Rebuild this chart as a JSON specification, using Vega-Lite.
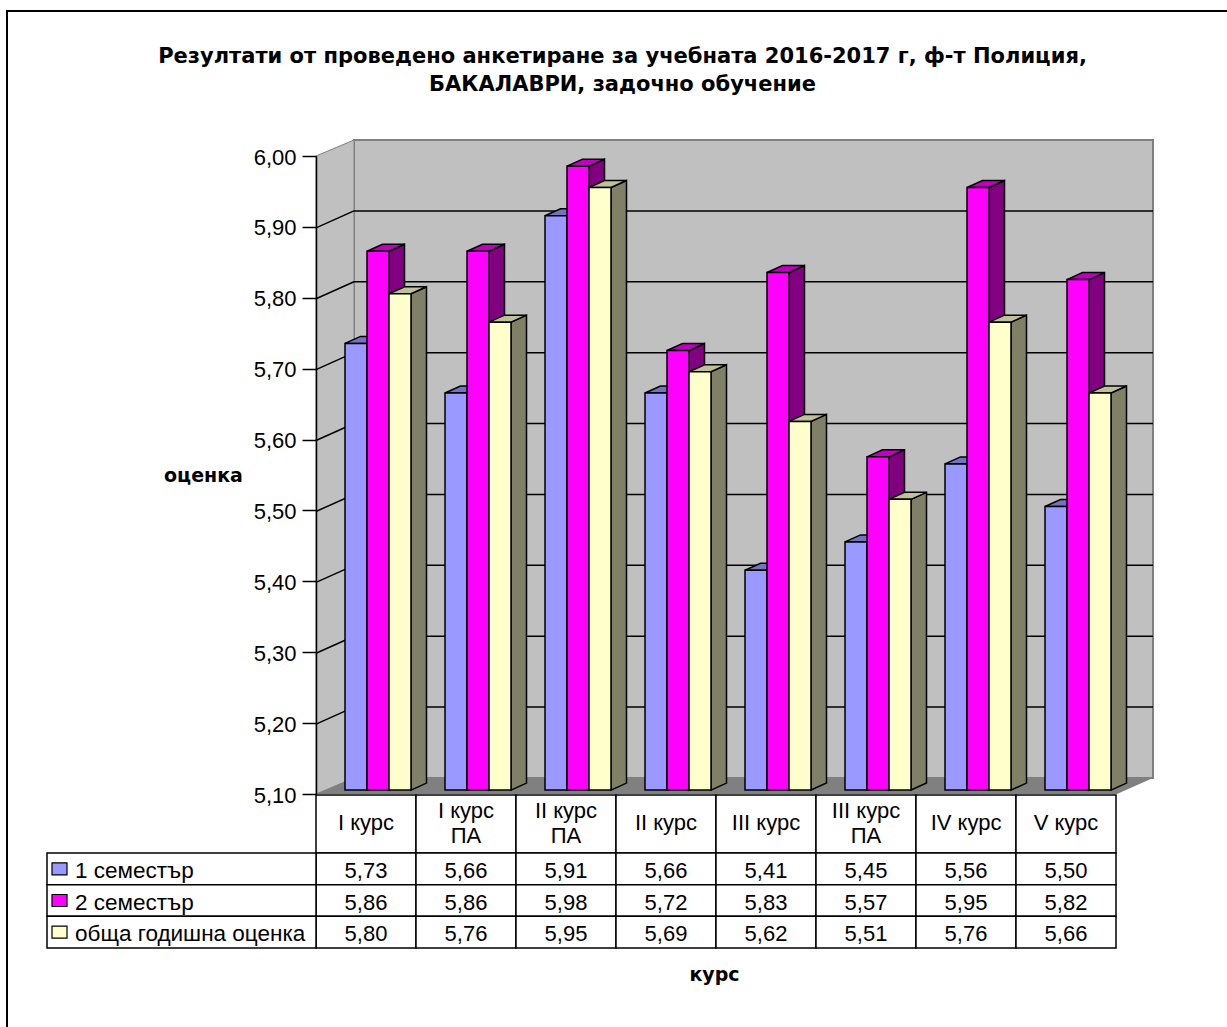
{
"$schema":"https://vega.github.io/schema/vega-lite/v6.json",
"width":1227,"height":1027,"autosize":{"type":"none"},"padding":0,"background":"white",
"config":{"view":{"stroke":null},"font":"Liberation Sans","locale":{"number":{"decimal":",","thousands":" ","grouping":[3],"currency":["",""]}}},
"title":{"text":["Резултати от проведено анкетиране за учебната 2016-2017 г, ф-т Полиция,","БАКАЛАВРИ, задочно обучение"],"anchor":"middle","frame":"group","font":"DejaVu Sans","fontSize":21,"fontWeight":"bold","lineHeight":28,"dx":9,"offset":-95,"color":"black"},
"datasets":{
"bars":[
{"course":"I курс","series":"1 семестър","value":5.73},{"course":"I курс\nПА","series":"1 семестър","value":5.66},{"course":"II курс\nПА","series":"1 семестър","value":5.91},{"course":"II курс","series":"1 семестър","value":5.66},{"course":"III курс","series":"1 семестър","value":5.41},{"course":"III курс\nПА","series":"1 семестър","value":5.45},{"course":"IV курс","series":"1 семестър","value":5.56},{"course":"V курс","series":"1 семестър","value":5.50},
{"course":"I курс","series":"2 семестър","value":5.86},{"course":"I курс\nПА","series":"2 семестър","value":5.86},{"course":"II курс\nПА","series":"2 семестър","value":5.98},{"course":"II курс","series":"2 семестър","value":5.72},{"course":"III курс","series":"2 семестър","value":5.83},{"course":"III курс\nПА","series":"2 семестър","value":5.57},{"course":"IV курс","series":"2 семестър","value":5.95},{"course":"V курс","series":"2 семестър","value":5.82},
{"course":"I курс","series":"обща годишна оценка","value":5.80},{"course":"I курс\nПА","series":"обща годишна оценка","value":5.76},{"course":"II курс\nПА","series":"обща годишна оценка","value":5.95},{"course":"II курс","series":"обща годишна оценка","value":5.69},{"course":"III курс","series":"обща годишна оценка","value":5.62},{"course":"III курс\nПА","series":"обща годишна оценка","value":5.51},{"course":"IV курс","series":"обща годишна оценка","value":5.76},{"course":"V курс","series":"обща годишна оценка","value":5.66}],
"ticks":[{"v":5.1},{"v":5.2},{"v":5.3},{"v":5.4},{"v":5.5},{"v":5.6},{"v":5.7},{"v":5.8},{"v":5.9},{"v":6.0}],
"grid":[{"v":5.2},{"v":5.3},{"v":5.4},{"v":5.5},{"v":5.6},{"v":5.7},{"v":5.8},{"v":5.9}],
"one":[{"n":1}],
"courses":[{"course":"I курс"},{"course":"I курс\nПА"},{"course":"II курс\nПА"},{"course":"II курс"},{"course":"III курс"},{"course":"III курс\nПА"},{"course":"IV курс"},{"course":"V курс"}],
"series":[{"series":"1 семестър"},{"series":"2 семестър"},{"series":"обща годишна оценка"}]
},
"resolve":{"scale":{"x":"independent","y":"independent","xOffset":"independent","color":"independent"}},
"layer":[
{"data":{"name":"one"},"mark":{"type":"rect","fill":"white","stroke":"black","strokeWidth":2},
 "encoding":{"x":{"datum":0,"type":"quantitative","scale":{"domain":[0,1],"range":[7,1300]},"axis":null},"x2":{"datum":1},"y":{"datum":0,"type":"quantitative","scale":{"domain":[0,1],"range":[11,1100]},"axis":null},"y2":{"datum":1}}},
{"data":{"name":"one"},"mark":{"type":"rect","fill":"#C0C0C0","stroke":"#808080","strokeWidth":2},
 "encoding":{"x":{"datum":0,"type":"quantitative","scale":{"domain":[0,8],"range":[354,1153]},"axis":null},"x2":{"datum":8},"y":{"datum":5.1,"type":"quantitative","scale":{"domain":[5.1,6],"range":[778,140]},"axis":null},"y2":{"datum":6}}},
{"data":{"name":"one"},"mark":{"type":"point","filled":true,"opacity":1,"fill":"#C0C0C0","stroke":"#808080","strokeWidth":1,"size":4,"shape":"M-38,16L0,0L0,638L-38,654Z"},
 "encoding":{"x":{"datum":0,"type":"quantitative","scale":{"domain":[0,8],"range":[354,1153]},"axis":null},"y":{"datum":6,"type":"quantitative","scale":{"domain":[5.1,6],"range":[778,140]},"axis":null}}},
{"data":{"name":"one"},"mark":{"type":"point","filled":true,"opacity":1,"fill":"#808080","size":4,"shape":"M0,0L799,0L763,16L-38,16Z"},
 "encoding":{"x":{"datum":0,"type":"quantitative","scale":{"domain":[0,8],"range":[354,1153]},"axis":null},"y":{"datum":5.1,"type":"quantitative","scale":{"domain":[5.1,6],"range":[778,140]},"axis":null}}},
{"data":{"name":"grid"},"mark":{"type":"rule","color":"black","strokeWidth":1.5},
 "encoding":{"x":{"datum":0,"type":"quantitative","scale":{"domain":[0,8],"range":[354,1153]},"axis":null},"x2":{"datum":8},"y":{"field":"v","type":"quantitative","scale":{"domain":[5.1,6],"range":[778,140]},"axis":null}}},
{"data":{"name":"grid"},"mark":{"type":"point","filled":false,"opacity":1,"stroke":"black","strokeWidth":1.5,"size":4,"shape":"M-38,17L0,0"},
 "encoding":{"x":{"datum":0,"type":"quantitative","scale":{"domain":[0,8],"range":[354,1153]},"axis":null},"y":{"field":"v","type":"quantitative","scale":{"domain":[5.1,6],"range":[778,140]},"axis":null}}},
{"data":{"name":"ticks"},"mark":{"type":"rule","opacity":0},
 "encoding":{"y":{"field":"v","type":"quantitative","scale":{"domain":[5.1,6],"range":[794,156]},"axis":{"orient":"left","offset":-316,"values":[5.1,5.2,5.3,5.4,5.5,5.6,5.7,5.8,5.9,6.0],"format":".2f","grid":false,"zindex":1,"domainColor":"black","domainWidth":1.5,"tickColor":"black","tickWidth":1.5,"tickSize":14,"labelFontSize":22,"labelColor":"black","labelPadding":6,"labelOffset":1,"labelFont":"Liberation Sans","labelOverlap":false,"title":"оценка","titleAngle":0,"titleFontSize":19,"titleFont":"DejaVu Sans","titleFontWeight":"bold","titleColor":"black","titleX":-113,"titleY":475,"titleAlign":"center","titleBaseline":"middle"}}}},
{"data":{"name":"bars"},"mark":{"type":"point","filled":true,"opacity":1,"stroke":"black","strokeWidth":1.5,"size":4,"shape":{"expr":"'M11,0L26.5,-7L26.5,'+((datum.value-5.1)*709-7)+'L11,'+((datum.value-5.1)*709)+'Z'"}},
 "encoding":{"x":{"field":"course","type":"nominal","sort":null,"scale":{"range":[328,1128],"paddingInner":0,"paddingOuter":0},"axis":null},
 "xOffset":{"field":"series","type":"nominal","scale":{"type":"point","range":[28,72],"padding":0}},
 "y":{"field":"value","type":"quantitative","scale":{"domain":[5.1,6],"range":[790,152]},"axis":null},
 "color":{"field":"series","type":"nominal","scale":{"range":["#4C4C80","#800080","#808066"]},"legend":null}}},
{"data":{"name":"bars"},"mark":{"type":"point","filled":true,"opacity":1,"stroke":"black","strokeWidth":1.5,"size":4,"shape":"M-11,0L11,0L26.5,-7L4.5,-7Z"},
 "encoding":{"x":{"field":"course","type":"nominal","sort":null,"scale":{"range":[328,1128],"paddingInner":0,"paddingOuter":0},"axis":null},
 "xOffset":{"field":"series","type":"nominal","scale":{"type":"point","range":[28,72],"padding":0}},
 "y":{"field":"value","type":"quantitative","scale":{"domain":[5.1,6],"range":[790,152]},"axis":null},
 "color":{"field":"series","type":"nominal","scale":{"range":["#7373BF","#C000C0","#C0C099"]},"legend":null}}},
{"data":{"name":"bars"},"mark":{"type":"bar","stroke":"black","strokeWidth":1.5},
 "encoding":{"x":{"field":"course","type":"nominal","sort":null,"scale":{"range":[328,1128],"paddingInner":0,"paddingOuter":0},"axis":null},
 "xOffset":{"field":"series","type":"nominal","scale":{"paddingInner":0,"paddingOuter":0.7727}},
 "y":{"field":"value","type":"quantitative","stack":null,"scale":{"domain":[5.1,6],"range":[790,152]},"axis":null},"y2":{"datum":5.1},
 "color":{"field":"series","type":"nominal","scale":{"range":["#9999FF","#FF00FF","#FFFFCC"]},"legend":null}}},
{"data":{"name":"courses"},"mark":{"type":"rect","fill":"white","stroke":"black","strokeWidth":1.5},
 "encoding":{"x":{"field":"course","type":"nominal","sort":null,"scale":{"range":[316,1116],"paddingInner":0,"paddingOuter":0},"axis":{"orient":"bottom","labels":false,"ticks":false,"domain":false,"title":"курс","titleFontSize":19,"titleFont":"DejaVu Sans","titleFontWeight":"bold","titleColor":"black","titleX":714,"titleY":-53,"titleAlign":"center","titleBaseline":"middle"}},
 "y":{"datum":"h","type":"nominal","scale":{"domain":["h"],"range":[795,853],"paddingInner":0,"paddingOuter":0},"axis":null}}},
{"data":{"name":"courses"},"mark":{"type":"text","fontSize":22,"color":"black","align":"center","baseline":"middle","lineHeight":25,"lineBreak":"\n","dy":{"expr":"test(/\\n/, datum.course) ? -13 : -1"}},
 "encoding":{"x":{"field":"course","type":"nominal","sort":null,"scale":{"range":[316,1116],"paddingInner":0,"paddingOuter":0},"axis":null},
 "y":{"datum":"h","type":"nominal","scale":{"domain":["h"],"range":[795,853],"paddingInner":0,"paddingOuter":0},"axis":null},"text":{"field":"course"}}},
{"data":{"name":"bars"},"mark":{"type":"rect","fill":"white","stroke":"black","strokeWidth":1.5},
 "encoding":{"x":{"field":"course","type":"nominal","sort":null,"scale":{"range":[316,1116],"paddingInner":0,"paddingOuter":0},"axis":null},
 "y":{"field":"series","type":"nominal","scale":{"range":[853,948],"paddingInner":0,"paddingOuter":0},"axis":null}}},
{"data":{"name":"bars"},"mark":{"type":"text","fontSize":22,"color":"black","align":"center","baseline":"middle","dy":2},
 "encoding":{"x":{"field":"course","type":"nominal","sort":null,"scale":{"range":[316,1116],"paddingInner":0,"paddingOuter":0},"axis":null},
 "y":{"field":"series","type":"nominal","scale":{"range":[853,948],"paddingInner":0,"paddingOuter":0},"axis":null},
 "text":{"field":"value","type":"quantitative","format":".2f"}}},
{"data":{"name":"series"},"mark":{"type":"rect","fill":"white","stroke":"black","strokeWidth":1.5},
 "encoding":{"x":{"datum":0,"type":"quantitative","scale":{"domain":[0,1],"range":[47,316]},"axis":null},"x2":{"datum":1},
 "y":{"field":"series","type":"nominal","scale":{"range":[853,948],"paddingInner":0,"paddingOuter":0},"axis":null}}},
{"data":{"name":"series"},"mark":{"type":"point","filled":true,"opacity":1,"stroke":"black","strokeWidth":1.2,"size":4,"shape":"M5,-6L20,-6L20,6L5,6Z"},
 "encoding":{"x":{"datum":0,"type":"quantitative","scale":{"domain":[0,1],"range":[47,316]},"axis":null},
 "y":{"field":"series","type":"nominal","scale":{"range":[853,948],"paddingInner":0,"paddingOuter":0},"axis":null},
 "color":{"field":"series","type":"nominal","scale":{"range":["#9999FF","#FF00FF","#FFFFCC"]},"legend":null}}},
{"data":{"name":"series"},"mark":{"type":"text","fontSize":22.5,"color":"black","align":"left","baseline":"middle","dx":28,"dy":2},
 "encoding":{"x":{"datum":0,"type":"quantitative","scale":{"domain":[0,1],"range":[47,316]},"axis":null},
 "y":{"field":"series","type":"nominal","scale":{"range":[853,948],"paddingInner":0,"paddingOuter":0},"axis":null},"text":{"field":"series"}}}
]
}
